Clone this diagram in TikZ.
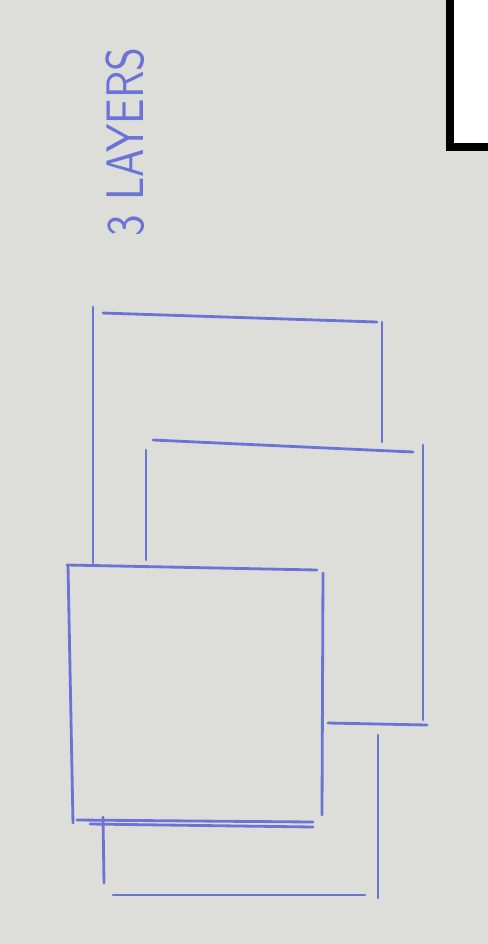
\documentclass[tikz,border=0pt]{standalone}
\usepackage{tikz}
\usetikzlibrary{positioning}
\definecolor{paper}{RGB}{221,222,217}
\definecolor{pen}{RGB}{108,115,214}

\begin{document}
\begin{tikzpicture}[
  x=0.01cm, y=-0.01cm,
  ink/.style={draw=pen, line width=0.8pt, line cap=round},
  frame/.style={draw=black, fill=white, line width=2.3pt},
  note/.style={text=pen, font=\sffamily\fontsize{15}{15}\selectfont, inner sep=0pt}]
% paper
\fill[paper] (0,0) rectangle (488,944);
\useasboundingbox (0,0) rectangle (488,944);
% black box top right
\draw[frame] (450,-20) rectangle (510,147);
% label
\node[note, rotate=90] (title) at (125,142) {\scalebox{0.83}[1]{3 LAYERS}};
% back layer
\draw[ink] (103,313) -- (377,322);
\draw[ink] (93,307) -- (93,563);
\draw[ink] (382,322) -- (382,442);
\draw[ink] (103,817) -- (104,883);
\draw[ink] (378,735) -- (378,898);
\draw[ink] (113,895) -- (365,895);
% middle layer
\draw[ink] (153,440) -- (413,452);
\draw[ink] (146,450) -- (146,560);
\draw[ink] (423,445) -- (423,720);
\draw[ink] (328,723) -- (427,725);
% front layer
\draw[ink] (67,565) -- (317,570);
\draw[ink] (68,565) -- (73,823);
\draw[ink] (323,573) -- (322,815);
\draw[ink] (77,820) -- (313,822);
\draw[ink] (90,824) -- (313,827);
\end{tikzpicture}
\end{document}
